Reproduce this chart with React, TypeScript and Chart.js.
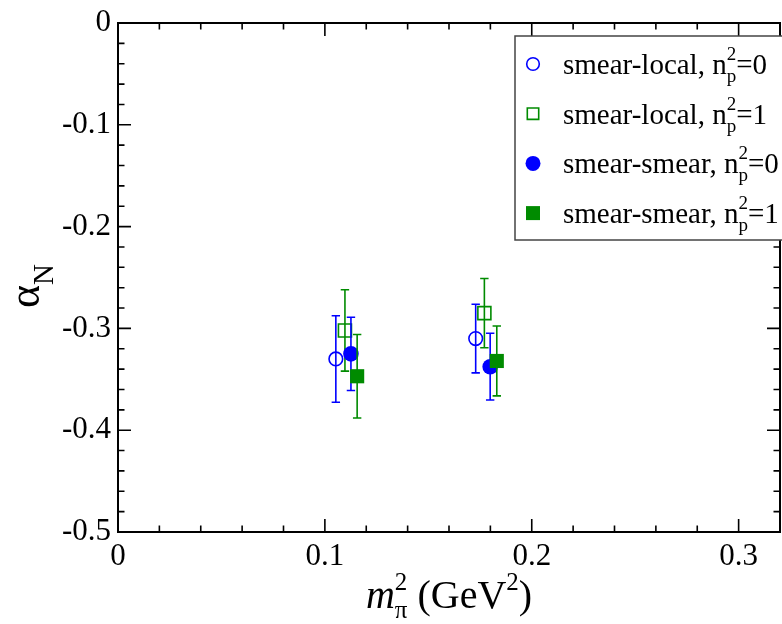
import React, { useEffect, useRef } from "react";
import { Chart, registerables } from "chart.js";

Chart.register(...registerables);

// ---- axes ----
const X_MIN = 0;
const X_MAX = 0.32;
const Y_MIN = -0.5;
const Y_MAX = 0;
const X_TICKS = [0, 0.1, 0.2, 0.3];
const Y_TICKS = [0, -0.1, -0.2, -0.3, -0.4, -0.5];
const MINOR_STEP = 0.02;
const MAJOR_STEP = 0.1;

// ---- data (m_pi^2 in GeV^2, alpha_N, error) ----
const xSL0 = [0.1053, 0.1729];
const ySL0 = [-0.33, -0.31];
const eSL0 = [0.0425, 0.0337];

const xSL1 = [0.1097, 0.1771];
const ySL1 = [-0.302, -0.285];
const eSL1 = [0.04, 0.034];

const xSS0 = [0.1126, 0.1799];
const ySS0 = [-0.325, -0.3376];
const eSS0 = [0.036, 0.0328];

const xSS1 = [0.1156, 0.1831];
const ySS1 = [-0.347, -0.332];
const eSS1 = [0.041, 0.0343];

const SERIES_LABELS = ["smear-local", "smear-local", "smear-smear", "smear-smear"];
const SERIES_NP2 = ["0", "1", "0", "1"];

const BLUE = "#0000ff";
const GREEN = "#008b00";
const FONT = "'Liberation Serif', 'Times New Roman', serif";

const SERIES = [
  { xs: xSL0, ys: ySL0, es: eSL0, color: BLUE, style: "circle", filled: false, r: 6.8 },
  { xs: xSL1, ys: ySL1, es: eSL1, color: GREEN, style: "rect", filled: false, r: 9.2 },
  { xs: xSS0, ys: ySS0, es: eSS0, color: BLUE, style: "circle", filled: true, r: 7.8 },
  { xs: xSS1, ys: ySS1, es: eSS1, color: GREEN, style: "rect", filled: true, r: 10 },
];

type Part = { t: string; size: number; dy?: number; italic?: boolean };

function drawRich(ctx: CanvasRenderingContext2D, x: number, y: number, parts: Part[][], measureOnly = false): number {
  let cx = x;
  for (const grp of parts) {
    let maxW = 0;
    for (const p of grp) {
      ctx.font = `${p.italic ? "italic " : ""}${p.size}px ${FONT}`;
      const w = ctx.measureText(p.t).width;
      if (w > maxW) maxW = w;
      if (!measureOnly) ctx.fillText(p.t, cx, y + (p.dy || 0));
    }
    cx += maxW;
  }
  return cx - x;
}

const decorPlugin = {
  id: "decor",
  beforeDatasetDraw(chart: any, args: any) {
    const s = SERIES[args.index];
    if (!s) return;
    const ctx = chart.ctx;
    const xs = chart.scales.x;
    const ys = chart.scales.y;
    ctx.save();
    ctx.strokeStyle = s.color;
    ctx.lineWidth = 1.6;
    for (let i = 0; i < s.xs.length; i++) {
      const px = xs.getPixelForValue(s.xs[i]);
      const top = ys.getPixelForValue(s.ys[i] + s.es[i]);
      const bot = ys.getPixelForValue(s.ys[i] - s.es[i]);
      ctx.beginPath();
      ctx.moveTo(px, top);
      ctx.lineTo(px, bot);
      ctx.moveTo(px - 4.2, top);
      ctx.lineTo(px + 4.2, top);
      ctx.moveTo(px - 4.2, bot);
      ctx.lineTo(px + 4.2, bot);
      ctx.stroke();
    }
    ctx.restore();
  },
  afterDraw(chart: any) {
    const ctx: CanvasRenderingContext2D = chart.ctx;
    const { left, right, top, bottom } = chart.chartArea;
    const xs = chart.scales.x;
    const ys = chart.scales.y;
    ctx.save();
    // frame
    ctx.strokeStyle = "#000";
    ctx.lineWidth = 2;
    ctx.strokeRect(left, top, right - left, bottom - top);
    // ticks
    ctx.lineWidth = 1.6;
    ctx.beginPath();
    const nx = Math.round((X_MAX - X_MIN) / MINOR_STEP);
    for (let k = 0; k <= nx; k++) {
      const v = X_MIN + k * MINOR_STEP;
      const major = Math.abs(v / MAJOR_STEP - Math.round(v / MAJOR_STEP)) < 1e-6;
      const len = major ? 13 : 6.5;
      const px = xs.getPixelForValue(v);
      ctx.moveTo(px, bottom);
      ctx.lineTo(px, bottom - len);
      ctx.moveTo(px, top);
      ctx.lineTo(px, top + len);
    }
    const ny = Math.round((Y_MAX - Y_MIN) / MINOR_STEP);
    for (let k = 0; k <= ny; k++) {
      const v = Y_MIN + k * MINOR_STEP;
      const major = Math.abs(v / MAJOR_STEP - Math.round(v / MAJOR_STEP)) < 1e-6;
      const len = major ? 13 : 6.5;
      const py = ys.getPixelForValue(v);
      ctx.moveTo(left, py);
      ctx.lineTo(left + len, py);
      ctx.moveTo(right, py);
      ctx.lineTo(right - len, py);
    }
    ctx.stroke();

    // x title
    ctx.fillStyle = "#000";
    ctx.textAlign = "left";
    ctx.textBaseline = "alphabetic";
    const xParts: Part[][] = [
      [{ t: "m", size: 40, italic: true }],
      [{ t: "π", size: 25, dy: 10 }, { t: "2", size: 25, dy: -18 }],
      [{ t: " (GeV", size: 40 }],
      [{ t: "2", size: 25, dy: -18 }],
      [{ t: ")", size: 40 }],
    ];
    const wX = drawRich(ctx, 0, 0, xParts, true);
    drawRich(ctx, (left + right) / 2 - wX / 2, 608, xParts);

    // y title (rotated)
    const yParts: Part[][] = [
      [{ t: "α", size: 44 }],
      [{ t: "N", size: 29, dy: 14 }],
    ];
    const wY = drawRich(ctx, 0, 0, yParts, true);
    ctx.save();
    ctx.translate(39, 286 + wY / 2);
    ctx.rotate(-Math.PI / 2);
    drawRich(ctx, 0, 0, yParts);
    ctx.restore();

    // legend
    const bx = 515, by = 36, bw = 290, bh = 204;
    ctx.fillStyle = "#fff";
    ctx.fillRect(bx, by, bw, bh);
    ctx.strokeStyle = "#444";
    ctx.lineWidth = 1.5;
    ctx.strokeRect(bx, by, bw, bh);
    const rowY0 = 64;
    const rowStep = 49.7;
    for (let i = 0; i < SERIES.length; i++) {
      const s = SERIES[i];
      const my = rowY0 + i * rowStep;
      const mx = 533;
      ctx.lineWidth = 1.6;
      ctx.strokeStyle = s.color;
      ctx.fillStyle = s.color;
      ctx.beginPath();
      if (s.style === "circle") {
        const r = s.filled ? 7.5 : 6.3;
        ctx.arc(mx, my, r, 0, Math.PI * 2);
      } else {
        const h = s.filled ? 7 : 5.7;
        ctx.rect(mx - h, my - h, 2 * h, 2 * h);
      }
      if (s.filled) ctx.fill();
      else ctx.stroke();
      ctx.fillStyle = "#000";
      const parts: Part[][] = [
        [{ t: SERIES_LABELS[i] + ", n", size: 29 }],
        [{ t: "p", size: 19, dy: 8 }, { t: "2", size: 19, dy: -14 }],
        [{ t: "=" + SERIES_NP2[i], size: 29 }],
      ];
      drawRich(ctx, 563, my + 10, parts);
    }
    ctx.restore();
  },
};

export default function App() {
  const ref = useRef<HTMLCanvasElement | null>(null);
  useEffect(() => {
    if (!ref.current) return;
    const datasets = SERIES.map((s, i) => ({
      label: SERIES_LABELS[i] + ", n_p^2=" + SERIES_NP2[i],
      data: s.xs.map((x, j) => ({ x, y: s.ys[j] })),
      pointStyle: s.style,
      pointRadius: s.r,
      pointHoverRadius: s.r,
      borderColor: s.color,
      backgroundColor: s.filled ? s.color : "rgba(0,0,0,0)",
      borderWidth: s.filled ? 0 : 1.6,
      showLine: false,
      order: SERIES.length - i,
    }));
    const chart = new Chart(ref.current, {
      type: "scatter",
      data: { datasets },
      options: {
        animation: false,
        responsive: false,
        devicePixelRatio: 1,
        events: [],
        layout: { autoPadding: false, padding: { top: 23, right: 2, left: 0, bottom: 0 } },
        plugins: { legend: { display: false }, tooltip: { enabled: false } },
        scales: {
          x: {
            type: "linear",
            min: X_MIN,
            max: X_MAX,
            afterBuildTicks: (sc: any) => {
              sc.ticks = X_TICKS.map((v) => ({ value: v }));
            },
            afterFit: (sc: any) => {
              sc.height = 92;
              sc.paddingLeft = 0;
              sc.paddingRight = 0;
            },
            grid: { display: false, drawTicks: false },
            border: { display: false },
            ticks: {
              color: "#000",
              font: { family: FONT, size: 31 },
              padding: 6,
              maxRotation: 0,
              autoSkip: false,
              callback: (v: any) => String(Math.round(Number(v) * 10) / 10),
            },
          },
          y: {
            type: "linear",
            min: Y_MIN,
            max: Y_MAX,
            afterBuildTicks: (sc: any) => {
              sc.ticks = Y_TICKS.map((v) => ({ value: v }));
            },
            afterFit: (sc: any) => {
              sc.width = 118;
              sc.paddingTop = 0;
              sc.paddingBottom = 0;
            },
            grid: { display: false, drawTicks: false },
            border: { display: false },
            ticks: {
              color: "#000",
              font: { family: FONT, size: 31 },
              padding: 7,
              autoSkip: false,
              callback: (v: any) => String(Math.round(Number(v) * 10) / 10),
            },
          },
        },
      },
      plugins: [decorPlugin],
    });
    return () => chart.destroy();
  }, []);
  return (
    <div style={{ position: "absolute", left: 0, top: 0, width: 782, height: 624, background: "#fff" }}>
      <canvas ref={ref} width={782} height={624} style={{ width: 782, height: 624 }} />
    </div>
  );
}
